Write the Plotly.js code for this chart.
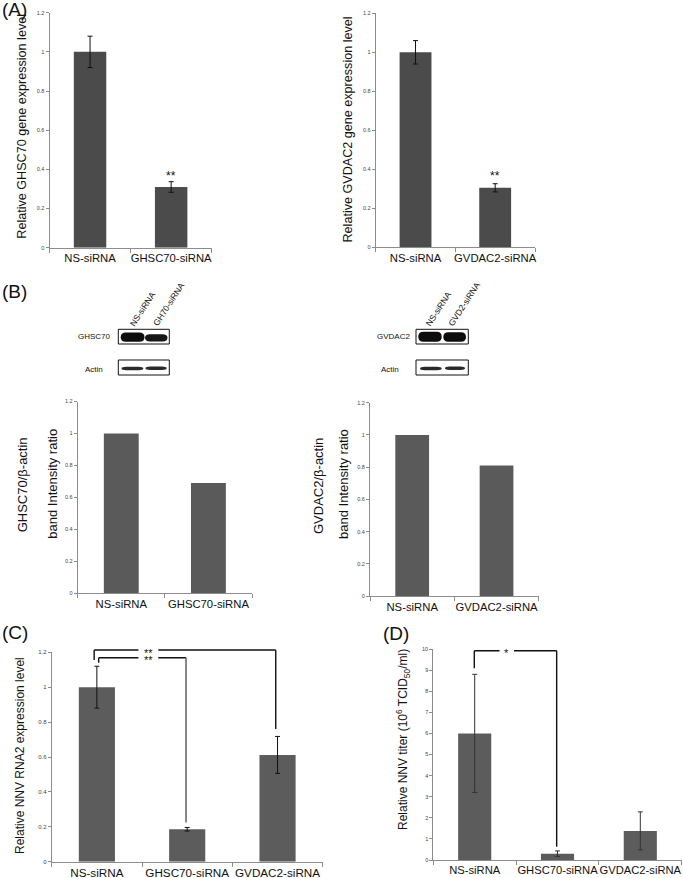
<!DOCTYPE html>
<html><head><meta charset="utf-8">
<script src="https://cdn.plot.ly/plotly-3.0.1.min.js"></script>
<style>html,body{margin:0;padding:0;background:#fff}#chart{width:683px;height:878px}</style>
</head><body><div id="chart"></div>
<script>
const W = 683, H = 878;

// ---------- data ----------
const catsA1 = ['NS-siRNA', 'GHSC70-siRNA'];
const valsA1 = [1.0, 0.31];
const errA1 = [0.08, 0.027];

const catsA2 = ['NS-siRNA', 'GVDAC2-siRNA'];
const valsA2 = [1.0, 0.305];
const errA2 = [0.06, 0.021];

const catsB1 = ['NS-siRNA', 'GHSC70-siRNA'];
const valsB1 = [1.0, 0.69];

const catsB2 = ['NS-siRNA', 'GVDAC2-siRNA'];
const valsB2 = [1.0, 0.81];

const catsC = ['NS-siRNA', 'GHSC70-siRNA', 'GVDAC2-siRNA'];
const valsC = [1.0, 0.186, 0.612];
const errC = [0.12, 0.01, 0.106];

const catsD = ['NS-siRNA', 'GHSC70-siRNA', 'GVDAC2-siRNA'];
const valsD = [6.0, 0.3, 1.38];
const errD = [2.8, 0.13, 0.9];

const ticksRel = [0, 0.2, 0.4, 0.6, 0.8, 1, 1.2];
const ticksD = [0, 1, 2, 3, 4, 5, 6, 7, 8, 9, 10];

const blotLanesL = ['NS-siRNA', 'GH70-siRNA'];
const blotLanesR = ['NS-siRNA', 'GVD2-siRNA'];

// ---------- helpers ----------
const FONT = '"Liberation Sans", Arial, sans-serif';
const px = x => x / W, py = y => 1 - y / H;
const dX = (a, b) => [px(a), px(b)];
const dY = (top, bot) => [py(bot), py(top)];
const AX = '#8c8c8c';

function xax(domain, anchor, n, fs) {
  return {domain, anchor, type: 'category', range: [-0.5, n - 0.5],
    showline: true, linecolor: AX, linewidth: 1, ticks: 'outside', tickson: 'boundaries',
    ticklen: 4, tickcolor: AX, tickangle: 0, automargin: false,
    tickfont: {family: FONT, size: fs, color: '#111'},
    showgrid: false, zeroline: false, fixedrange: true};
}
function yax(domain, anchor, range, tickvals, fs) {
  return {domain, anchor, range, tickvals, showline: true, linecolor: AX, linewidth: 1,
    ticks: 'outside', ticklen: 3, tickcolor: AX, automargin: false,
    tickfont: {family: FONT, size: fs, color: '#444'},
    showgrid: false, zeroline: false, fixedrange: true};
}
function bar(x, y, err, xa, ya, color, ecol) {
  const t = {type: 'bar', x, y, xaxis: xa, yaxis: ya, width: 0.4,
    marker: {color, line: {width: 0}}, hoverinfo: 'skip', showlegend: false};
  if (err) t.error_y = {type: 'data', array: err, visible: true, color: ecol || '#111', thickness: 1, width: 2.5};
  return t;
}

const data = [
  bar(catsA1, valsA1, errA1, 'x', 'y', '#4b4b4b'),
  bar(catsA2, valsA2, errA2, 'x2', 'y2', '#4b4b4b'),
  bar(catsB1, valsB1, null, 'x3', 'y3', '#5a5a5a'),
  bar(catsB2, valsB2, null, 'x4', 'y4', '#5a5a5a'),
  bar(catsC, valsC, errC, 'x5', 'y5', '#5c5c5c'),
  bar(catsD, valsD, errD, 'x6', 'y6', '#5c5c5c', '#333')
];

const shapes = [];
const annotations = [];

// significance brackets (x in category units, y as fraction of the axis so they may rise above its top)
function seg(xa, yd, ymax, x0, y0, x1, y1, color, w) {
  shapes.push({type: 'line', xref: xa, yref: yd + ' domain', x0, x1, y0: y0 / ymax, y1: y1 / ymax,
    line: {color: color || '#111', width: w || 1.4}, layer: 'above'});
}
function bracket(xa, yd, ymax, xl, xr, yTop, yL, yR, g0, g1, label, lab_x, rcolor, rw) {
  seg(xa, yd, ymax, xl, yTop, g0, yTop);
  seg(xa, yd, ymax, g1, yTop, xr, yTop);
  seg(xa, yd, ymax, xl, yTop, xl, yL);
  seg(xa, yd, ymax, xr, yTop, xr, yR, rcolor, rw);
  annotations.push({xref: xa, yref: yd + ' domain', x: lab_x, y: yTop / ymax, text: label, showarrow: false,
    xanchor: 'center', yanchor: 'middle', yshift: -2.5, font: {family: FONT, size: 11, color: '#111'}});
}
// panel C
bracket('x5', 'y5', 1.2, -0.03, 1.98, 1.213, 1.156, 0.76, 0.46, 0.68, '**', 0.57);
bracket('x5', 'y5', 1.2, 0.02, 0.987, 1.169, 1.14, 0.224, 0.46, 0.68, '**', 0.57, '#6a6a6a', 1.6);
// panel D
bracket('x6', 'y6', 10, -0.005, 0.99, 9.92, 9.09, 0.63, 0.30, 0.475, '*', 0.387);

// A significance
annotations.push({xref: 'x', yref: 'y', x: 1, y: 0.381, text: '**', showarrow: false, yanchor: 'middle', yshift: -3,
  font: {family: FONT, size: 12, color: '#111'}});
annotations.push({xref: 'x2', yref: 'y2', x: 1, y: 0.379, text: '**', showarrow: false, yanchor: 'middle', yshift: -3,
  font: {family: FONT, size: 12, color: '#111'}});

// ---------- text in paper px ----------
function txt(text, x, y, size, opts) {
  annotations.push(Object.assign({xref: 'paper', yref: 'paper', x: px(x), y: py(y), text,
    showarrow: false, xanchor: 'center', yanchor: 'middle',
    font: {family: FONT, size, color: '#111'}}, opts || {}));
}
// panel letters
txt('(A)', 0, 9.5, 19, {xanchor: 'left'});
txt('(B)', 0, 291.5, 19, {xanchor: 'left'});
txt('(C)', 0, 632, 19, {xanchor: 'left'});
txt('(D)', 381, 633, 19, {xanchor: 'left'});
// y titles
txt('Relative GHSC70 gene expression level', 21.7, 126, 12.6, {textangle: -90});
txt('Relative GVDAC2 gene expression level', 347.5, 129, 12.6, {textangle: -90});
txt('GHSC70/β-actin', 23.3, 485, 13, {textangle: -90});
txt('band Intensity ratio', 51.7, 484, 13, {textangle: -90});
txt('GVDAC2/β-actin', 318, 486, 13, {textangle: -90});
txt('band Intensity ratio', 343, 484, 13, {textangle: -90});
txt('Relative NNV RNA2 expression level', 20, 756, 12, {textangle: -90});
txt('Relative NNV titer (10<sup>6</sup> TCID<sub>50</sub>/ml)', 403, 740, 12, {textangle: -90});

// ---------- western blot insets ----------
function rect(x0, x1, y0, y1) {
  shapes.push({type: 'rect', xref: 'paper', yref: 'paper', x0: px(x0), x1: px(x1), y0: py(y1), y1: py(y0),
    line: {color: '#111', width: 1}, fillcolor: 'rgba(0,0,0,0)'});
}
function band(x0, x1, y0, y1, color) {
  const r = Math.min((x1 - x0) * 0.22, 6), ym = (y0 + y1) / 2;
  const P = (x, y) => px(x) + ',' + py(y);
  const path = 'M' + P(x0 + r, y0) + ' L' + P(x1 - r, y0) + ' Q' + P(x1, y0) + ' ' + P(x1, ym) +
    ' Q' + P(x1, y1) + ' ' + P(x1 - r, y1) + ' L' + P(x0 + r, y1) + ' Q' + P(x0, y1) + ' ' + P(x0, ym) +
    ' Q' + P(x0, y0) + ' ' + P(x0 + r, y0) + ' Z';
  shapes.push({type: 'path', xref: 'paper', yref: 'paper', path, fillcolor: color || '#111', line: {width: 0}});
}
// left blot
rect(118.3, 169.3, 329.3, 344);
rect(118.3, 169.3, 360, 375);
band(120.7, 144.5, 332.6, 341.8, '#0d0d0d');
band(145, 167.5, 334.2, 341.4, '#161616');
band(121.5, 143.3, 366.8, 370.2, '#2a2a2a');
band(145.5, 166.7, 366.6, 370.0, '#2a2a2a');
txt('GHSC70', 113.3, 336.7, 8, {xanchor: 'right'});
txt('Actin', 83.3, 369.3, 8, {xanchor: 'left'});
txt(blotLanesL[0], 142.5, 309, 8.5, {textangle: -57});
txt(blotLanesL[1], 168.8, 304, 8.5, {textangle: -57});
// right blot
rect(416, 468.3, 329.3, 344);
rect(416, 468.3, 360, 375);
band(418.3, 441.7, 331.8, 341.8, '#0d0d0d');
band(443.3, 466, 332.2, 341.8, '#0d0d0d');
band(420, 441.7, 366.8, 370.2, '#2a2a2a');
band(445, 465, 366.6, 370.0, '#2a2a2a');
txt('GVDAC2', 411.7, 336.7, 8, {xanchor: 'right'});
txt('Actin', 379.3, 369.3, 8, {xanchor: 'left'});
txt(blotLanesR[0], 438.3, 309, 8.5, {textangle: -57});
txt(blotLanesR[1], 464.2, 304, 8.5, {textangle: -57});

const layout = {
  width: W, height: H, autosize: false,
  margin: {l: 0, r: 0, t: 0, b: 0},
  paper_bgcolor: '#fff', plot_bgcolor: 'rgba(0,0,0,0)',
  showlegend: false,
  font: {family: FONT, color: '#111'},
  xaxis: xax(dX(49.5, 211.7), 'y', 2, 11.3),
  yaxis: yax(dY(12.7, 247.7), 'x', [0, 1.2], ticksRel, 5.5),
  xaxis2: xax(dX(375.7, 535), 'y2', 2, 11.3),
  yaxis2: yax(dY(13.3, 247.3), 'x2', [0, 1.2], ticksRel, 5.5),
  xaxis3: xax(dX(77.7, 252), 'y3', 2, 11.3),
  yaxis3: yax(dY(401.5, 593.3), 'x3', [0, 1.2], ticksRel, 5.5),
  xaxis4: xax(dX(370, 538.7), 'y4', 2, 11.3),
  yaxis4: yax(dY(402.7, 596), 'x4', [0, 1.2], ticksRel, 5.5),
  xaxis5: xax(dX(51.7, 322.7), 'y5', 3, 11.7),
  yaxis5: yax(dY(652.3, 861.7), 'x5', [0, 1.2], ticksRel, 6),
  xaxis6: xax(dX(433.3, 681.7), 'y6', 3, 11.2),
  yaxis6: yax(dY(649, 860), 'x6', [0, 10], ticksD, 5.5),
  shapes, annotations
};

Plotly.newPlot('chart', data, layout, {displayModeBar: false, staticPlot: true});
</script>
</body></html>
